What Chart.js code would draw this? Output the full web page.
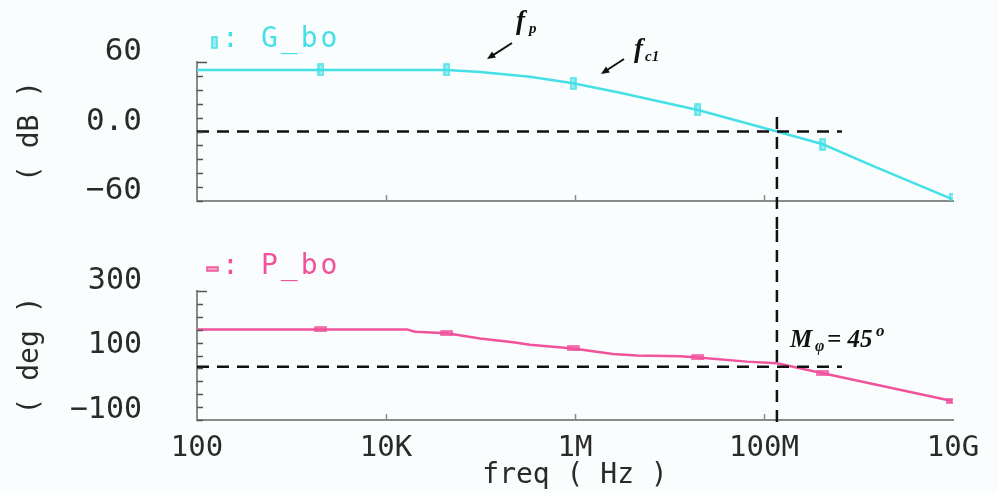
<!DOCTYPE html>
<html>
<head>
<meta charset="utf-8">
<script src="https://cdn.jsdelivr.net/npm/chart.js@4.4.1/dist/chart.umd.min.js"></script>
<style>
  html, body { margin: 0; padding: 0; background: #fafdfe; }
  #wrap { position: relative; width: 998px; height: 493px; overflow: hidden; }
  #gainChart { position: absolute; left: 0; top: 0; }
  #phaseChart { position: absolute; left: 0; top: 230px; }
</style>
</head>
<body>
<div id="wrap">
  <canvas id="gainChart" width="998" height="230"></canvas>
  <canvas id="phaseChart" width="998" height="263"></canvas>
</div>
<script>
// gain curve (Hz / dB)
var gainFreq = [100, 2050, 16600, 44000, 99000, 334000, 953000, 3000000, 20000000, 137000000, 420000000, 1500000000, 9800000000];
var gainDb = [53.1, 53.1, 53.1, 53.1, 51.4, 47.3, 41.6, 33.5, 18.6, 0, -11, -30.5, -58.3];

// phase curve (Hz / deg)
var phaseFreq = [100, 2050, 16600, 20300, 44000, 99000, 221000, 334000, 953000, 2520000, 4530000, 12900000, 20000000, 66000000, 137000000, 420000000, 9800000000];
var phaseDeg = [181, 181, 181, 174, 169, 153, 141, 133, 122, 105, 100, 98, 94, 81, 76, 45, -41];

// marker positions on both curves
var markerFreq = [2050, 44000, 953000, 20000000, 420000000, 9800000000];

// reference lines
var unityFreq = 137000000;
var refLineEndFreq = 668000000;
var marginPhase = 65;
var unityGainTop = 12.5, unityGainBottom = -85;
var unityPhaseTop = 489, unityPhaseBottom = -122;

// ticks
var xTickValues = [1e2, 1e4, 1e6, 1e8, 1e10];
var xTickLabels = ['100', '10K', '1M', '100M', '10G'];
var gainTickValues = [-60, 0, 60];
var gainTickLabels = ['\u221260', '0.0', '60'];
var phaseTickValues = [-100, 100, 300];
var phaseTickLabels = ['\u2212100', '100', '300'];

var CYAN = '#45e0e6';
var PINK = '#f0529c';
var AXIS = '#8a8a8a';
var TEXT = '#2a2a2a';
var FONT = 'DejaVu Sans Mono';

function makeMarker(color, w, h) {
  var c = document.createElement('canvas');
  c.width = w + 2;
  c.height = h + 2;
  var g = c.getContext('2d');
  g.fillStyle = color;
  g.globalAlpha = 0.55;
  g.fillRect(1, 1, w, h);
  g.globalAlpha = 1;
  g.strokeStyle = color;
  g.lineWidth = 1.5;
  g.strokeRect(1, 1, w, h);
  return c;
}

var gainMarker = makeMarker(CYAN, 5, 11);
var phaseMarker = makeMarker(PINK, 11, 4);

function toPoints(xs, ys) {
  return xs.map(function(x, i) { return { x: x, y: ys[i] }; });
}

function markerRadius(c) {
  return c.raw && markerFreq.indexOf(c.raw.x) >= 0 ? 4 : 0;
}

function dashed(data) {
  return {
    data: data,
    borderColor: '#111',
    borderWidth: 2.5,
    borderDash: [12, 8],
    pointRadius: 0,
    clip: false,
    order: 0
  };
}

// 内向きの目盛り線
var inwardTicks = {
  id: 'inwardTicks',
  afterDraw: function(chart) {
    var ctx = chart.ctx, ys = chart.scales.y, xs = chart.scales.x, area = chart.chartArea;
    ctx.save();
    ctx.strokeStyle = '#555';
    ctx.lineWidth = 1.5;
    ys.ticks.forEach(function(t, i) {
      var py = Math.round(ys.getPixelForValue(t.value)) + 0.5;
      var len = (i === ys.ticks.length - 1) ? 10 : 6;
      ctx.beginPath();
      ctx.moveTo(area.left, py);
      ctx.lineTo(area.left + len, py);
      ctx.stroke();
    });
    ctx.strokeStyle = AXIS;
    xs.ticks.forEach(function(t) {
      var px = Math.round(xs.getPixelForValue(t.value)) + 0.5;
      if (px < area.left + 3 || px > area.right - 3) return;
      ctx.beginPath();
      ctx.moveTo(px, area.bottom);
      ctx.lineTo(px, area.bottom - 6);
      ctx.stroke();
    });
    ctx.restore();
  }
};

function legendPlugin(label, color, marker, mx, my, ty) {
  return {
    id: 'legendText',
    afterDraw: function(chart) {
      var ctx = chart.ctx;
      ctx.save();
      ctx.drawImage(marker, mx, my);
      ctx.fillStyle = color;
      ctx.font = '28px "' + FONT + '"';
      ctx.textBaseline = 'middle';
      ctx.fillText(':', 222, ty);
      ctx.letterSpacing = '3px';
      ctx.fillText(label, 261, ty);
      ctx.restore();
    }
  };
}

function drawArrow(ctx, a) {
  var x1 = a[0], y1 = a[1], x2 = a[2], y2 = a[3];
  var ang = Math.atan2(y2 - y1, x2 - x1);
  ctx.beginPath();
  ctx.moveTo(x1, y1);
  ctx.lineTo(x2 - 5 * Math.cos(ang), y2 - 5 * Math.sin(ang));
  ctx.stroke();
  ctx.beginPath();
  ctx.moveTo(x2, y2);
  ctx.lineTo(x2 - 9 * Math.cos(ang - 0.4), y2 - 9 * Math.sin(ang - 0.4));
  ctx.lineTo(x2 - 9 * Math.cos(ang + 0.4), y2 - 9 * Math.sin(ang + 0.4));
  ctx.closePath();
  ctx.fill();
}

var noteFont = '"Liberation Serif"';

var gainNotes = {
  id: 'gainNotes',
  afterDraw: function(chart) {
    var ctx = chart.ctx;
    ctx.save();
    ctx.fillStyle = '#111';
    ctx.strokeStyle = '#111';
    ctx.lineWidth = 2;
    drawArrow(ctx, [512, 43, 487, 59]);
    drawArrow(ctx, [624, 59, 601, 74]);
    ctx.textBaseline = 'alphabetic';
    ctx.font = 'italic bold 27px ' + noteFont;
    ctx.fillText('f', 516, 29);
    ctx.fillText('f', 634, 57);
    ctx.font = 'italic bold 15px ' + noteFont;
    ctx.fillText('p', 529, 33);
    ctx.fillText('c1', 645, 61);
    ctx.restore();
  }
};

var phaseNotes = {
  id: 'phaseNotes',
  afterDraw: function(chart) {
    var ctx = chart.ctx;
    ctx.save();
    ctx.fillStyle = '#111';
    ctx.textBaseline = 'alphabetic';
    ctx.font = 'italic bold 25px ' + noteFont;
    ctx.fillText('M', 790, 117);
    ctx.fillText('= 45', 827, 117);
    ctx.font = 'italic bold 16px ' + noteFont;
    ctx.fillText('\u03c6', 815, 121);
    ctx.font = 'italic bold 17px ' + noteFont;
    ctx.fillText('o', 876, 106);
    ctx.restore();
  }
};

function xScale(showLabels, height) {
  return {
    type: 'logarithmic',
    min: 100,
    max: 1e10,
    afterBuildTicks: function(s) {
      s.ticks = xTickValues.map(function(v) { return { value: v }; });
    },
    afterFit: function(s) {
      s.height = height;
      s.paddingLeft = 0;
      s.paddingRight = 0;
    },
    border: { display: true, color: AXIS, width: 2 },
    grid: { drawOnChartArea: false, drawTicks: false },
    ticks: {
      display: showLabels,
      autoSkip: false,
      maxRotation: 0,
      padding: 11,
      color: TEXT,
      font: { family: FONT, size: 29 },
      callback: function(v) {
        var i = xTickValues.indexOf(v);
        return i >= 0 ? xTickLabels[i] : '';
      }
    },
    title: {
      display: showLabels,
      text: 'freq ( Hz )',
      color: TEXT,
      font: { family: FONT, size: 28 },
      padding: { top: 0, bottom: 0 }
    }
  };
}

function yScale(min, max, step, values, labels, title, size) {
  return {
    min: min,
    max: max,
    afterFit: function(s) {
      s.width = 197;
      s.paddingTop = 0;
      s.paddingBottom = 0;
    },
    border: { display: true, color: AXIS, width: 2 },
    grid: { drawOnChartArea: false, drawTicks: false },
    ticks: {
      stepSize: step,
      autoSkip: false,
      padding: 55,
      labelOffset: -10,
      color: TEXT,
      font: { family: FONT, size: size },
      callback: function(v) {
        var i = values.indexOf(v);
        return i >= 0 ? labels[i] : '';
      }
    },
    title: {
      display: true,
      text: title,
      color: TEXT,
      font: { family: FONT, size: 28 },
      padding: { top: 14, bottom: 0 }
    }
  };
}

var common = {
  responsive: false,
  animation: false,
  events: [],
  plugins: { legend: { display: false }, tooltip: { enabled: false } }
};

new Chart(document.getElementById('gainChart'), {
  type: 'line',
  data: {
    datasets: [
      dashed([{ x: 100, y: 0 }, { x: refLineEndFreq, y: 0 }]),
      dashed([{ x: unityFreq, y: unityGainTop }, { x: unityFreq, y: unityGainBottom }]),
      {
        label: 'G_bo',
        data: toPoints(gainFreq, gainDb),
        borderColor: CYAN,
        borderWidth: 2.5,
        tension: 0,
        pointStyle: gainMarker,
        pointRadius: markerRadius,
        order: 1
      }
    ]
  },
  options: Object.assign({}, common, {
    layout: { padding: { top: 62, right: 45, left: 0, bottom: 0 } },
    scales: {
      x: xScale(false, 29),
      y: yScale(-60, 60, 12, gainTickValues, gainTickLabels, '( dB )', 31)
    }
  }),
  plugins: [inwardTicks, legendPlugin('G_bo', CYAN, gainMarker, 211, 36, 40), gainNotes]
});

new Chart(document.getElementById('phaseChart'), {
  type: 'line',
  data: {
    datasets: [
      dashed([{ x: 100, y: marginPhase }, { x: refLineEndFreq, y: marginPhase }]),
      dashed([{ x: unityFreq, y: unityPhaseTop }, { x: unityFreq, y: unityPhaseBottom }]),
      {
        label: 'P_bo',
        data: toPoints(phaseFreq, phaseDeg),
        borderColor: PINK,
        borderWidth: 2.5,
        tension: 0,
        pointStyle: phaseMarker,
        pointRadius: markerRadius,
        order: 1
      }
    ]
  },
  options: Object.assign({}, common, {
    layout: { padding: { top: 61, right: 45, left: 0, bottom: 0 } },
    scales: {
      x: xScale(true, 73),
      y: yScale(-100, 300, 40, phaseTickValues, phaseTickLabels, '( deg )', 30)
    }
  }),
  plugins: [inwardTicks, legendPlugin('P_bo', PINK, phaseMarker, 206, 36, 37), phaseNotes]
});
</script>
</body>
</html>
